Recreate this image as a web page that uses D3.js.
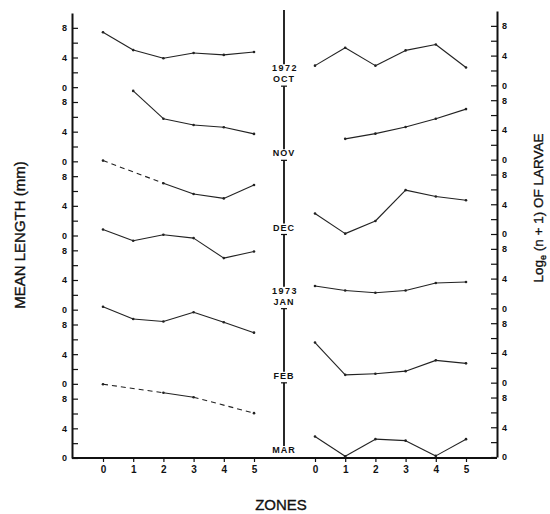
<!DOCTYPE html>
<html>
<head>
<meta charset="utf-8">
<script src="https://cdn.jsdelivr.net/npm/d3@7"></script>
<style>
  body { margin: 0; background: #fff; }
  text { font-family: "Liberation Sans", Arial, sans-serif; fill: #111; }
  .tick text { font-size: 9px; font-weight: bold; }
  .tick line { stroke: #111; stroke-width: 1.2; }
  .title { stroke: #111; stroke-width: 0.35; }
</style>
</head>
<body>
<script>
// Zones sampled on both panels
const zones = [0, 1, 2, 3, 4, 5];
const months = ["OCT", "NOV", "DEC", "JAN", "FEB", "MAR"];
const yearLabels = ["1972", "", "", "1973", "", ""];
const yTickLabels = [0, 4, 8];

// Mean length (mm) per zone, one array per month (null = no sample)
const lengthOct = [7.4, 5.0, 3.9, 4.6, 4.35, 4.75];
const lengthNov = [null, 9.5, 5.75, 4.9, 4.6, 3.7];
const lengthDec = [10.1, null, 7.05, 5.6, 5.0, 6.8];
const lengthJan = [10.8, 9.3, 10.1, 9.65, 6.95, 7.85];
const lengthFeb = [10.4, 8.75, 8.4, 9.65, 8.3, 6.9];
const lengthMar = [9.95, null, 8.8, 8.2, null, 6.05];

// Log_e (n + 1) of larvae per zone
const larvaeOct = [2.65, 5.05, 2.65, 4.7, 5.5, 2.4];
const larvaeNov = [null, 2.8, 3.5, 4.4, 5.5, 6.8];
const larvaeDec = [2.75, 0.05, 1.75, 5.9, 5.05, 4.55];
const larvaeJan = [3.0, 2.4, 2.1, 2.4, 3.4, 3.55];
const larvaeFeb = [5.4, 1.05, 1.2, 1.55, 3.0, 2.6];
const larvaeMar = [2.75, 0.1, 2.4, 2.2, 0.15, 2.4];

const meanLength = [lengthOct, lengthNov, lengthDec, lengthJan, lengthFeb, lengthMar];
const larvae = [larvaeOct, larvaeNov, larvaeDec, larvaeJan, larvaeFeb, larvaeMar];

const rowSpan = 10;              // each month row covers 0..10
const nRows = months.length;
const leftAxisX = 72, rightAxisX = 497, centerX = 284;

const svg = d3.select("body").append("svg")
    .attr("width", 550)
    .attr("height", 514);

// Stacked scales: row i sits at base (nRows-1-i)*rowSpan
const yL = d3.scaleLinear().domain([0, nRows * rowSpan]).range([458, 13]);
const yR = d3.scaleLinear().domain([0, nRows * rowSpan]).range([457, 11]);
const xL = d3.scaleLinear().domain([0, 5]).range([103, 254]);
const xR = d3.scaleLinear().domain([0, 5]).range([315, 466]);
const base = i => (nRows - 1 - i) * rowSpan;

const tickVals = d3.range(0, nRows * rowSpan, 2);
const fmt = v => yTickLabels.includes(v % rowSpan) ? String(v % rowSpan) : "";

// Left y axis (ticks inside)
svg.append("g")
   .attr("transform", `translate(${leftAxisX},0)`)
   .call(d3.axisLeft(yL).tickValues(tickVals).tickFormat(fmt)
         .tickSizeInner(-6).tickSizeOuter(0).tickPadding(5))
   .call(g => g.select(".domain").attr("stroke", "#111").attr("stroke-width", 2));

// Right y axis (ticks inside)
svg.append("g")
   .attr("transform", `translate(${rightAxisX},0)`)
   .call(d3.axisRight(yR).tickValues(tickVals).tickFormat(fmt)
         .tickSizeInner(-6).tickSizeOuter(0).tickPadding(5))
   .call(g => g.select(".domain").attr("stroke", "#111").attr("stroke-width", 2));

// Bottom axes
[xL, xR].forEach(x => {
    svg.append("g")
       .attr("transform", `translate(0,${yL(0)})`)
       .call(d3.axisBottom(x).tickValues(zones).tickFormat(d3.format("d"))
             .tickSizeInner(4).tickSizeOuter(0).tickPadding(4))
       .call(g => g.select(".domain").remove())
       .selectAll("text").style("font-size", "10px");
});
svg.append("line")
   .attr("x1", leftAxisX).attr("x2", rightAxisX)
   .attr("y1", yL(0)).attr("y2", yL(0))
   .attr("stroke", "#111").attr("stroke-width", 2.2);

// Centre time line with month labels
let segTop = 10;
months.forEach((m, i) => {
    const y0 = yL(base(i));
    const monthBase = y0 - 5;
    const labelTop = (yearLabels[i] ? monthBase - 11 : monthBase) - 7;
    svg.append("line")
       .attr("x1", centerX).attr("x2", centerX)
       .attr("y1", segTop).attr("y2", labelTop)
       .attr("stroke", "#111").attr("stroke-width", 1.8);
    if (yearLabels[i]) {
        svg.append("text")
           .attr("x", centerX + 1).attr("y", monthBase - 11)
           .attr("text-anchor", "middle")
           .style("font-size", "9px").style("font-weight", "bold")
           .style("letter-spacing", "1.5px")
           .text(yearLabels[i]);
    }
    svg.append("text")
       .attr("x", centerX).attr("y", monthBase)
       .attr("text-anchor", "middle")
       .style("font-size", "9px").style("font-weight", "bold")
       .style("letter-spacing", "1px")
       .text(m);
    if (i < nRows - 1) {
        const cb = y0 - 1;
        svg.append("line")
           .attr("x1", centerX - 3).attr("x2", centerX + 3)
           .attr("y1", cb).attr("y2", cb)
           .attr("stroke", "#111").attr("stroke-width", 1.2);
        segTop = cb;
    }
});

// Draw one series: solid between neighbours, dashed across missing zones
function drawSeries(values, i, x, y) {
    const pts = zones.map(z => ({z, v: values[z]})).filter(d => d.v !== null);
    for (let k = 1; k < pts.length; k++) {
        const a = pts[k - 1], b = pts[k];
        svg.append("line")
           .attr("x1", x(a.z)).attr("y1", y(base(i) + a.v))
           .attr("x2", x(b.z)).attr("y2", y(base(i) + b.v))
           .attr("stroke", "#222").attr("stroke-width", 1.1)
           .attr("stroke-dasharray", b.z - a.z > 1 ? "5,4" : null);
    }
    svg.selectAll(null).data(pts).enter().append("circle")
       .attr("cx", d => x(d.z)).attr("cy", d => y(base(i) + d.v))
       .attr("r", 1.3).attr("fill", "#222");
}
meanLength.forEach((s, i) => drawSeries(s, i, xL, yL));
larvae.forEach((s, i) => drawSeries(s, i, xR, yR));

// Axis titles
svg.append("text")
   .attr("class", "title")
   .attr("transform", "translate(25,235) rotate(-90)")
   .attr("text-anchor", "middle")
   .style("font-size", "15px")
   .text("MEAN LENGTH (mm)");

const rt = svg.append("text")
   .attr("class", "title")
   .attr("transform", "translate(543,208) rotate(-90)")
   .attr("text-anchor", "middle")
   .style("font-size", "13.5px");
rt.append("tspan").text("Log");
rt.append("tspan").attr("dy", 2.5).style("font-size", "9px").text("e");
rt.append("tspan").attr("dy", -2.5).text(" (n + 1) OF LARVAE");

svg.append("text")
   .attr("class", "title")
   .attr("x", 281).attr("y", 510)
   .attr("text-anchor", "middle")
   .style("font-size", "15px")
   .text("ZONES");
</script>
</body>
</html>
